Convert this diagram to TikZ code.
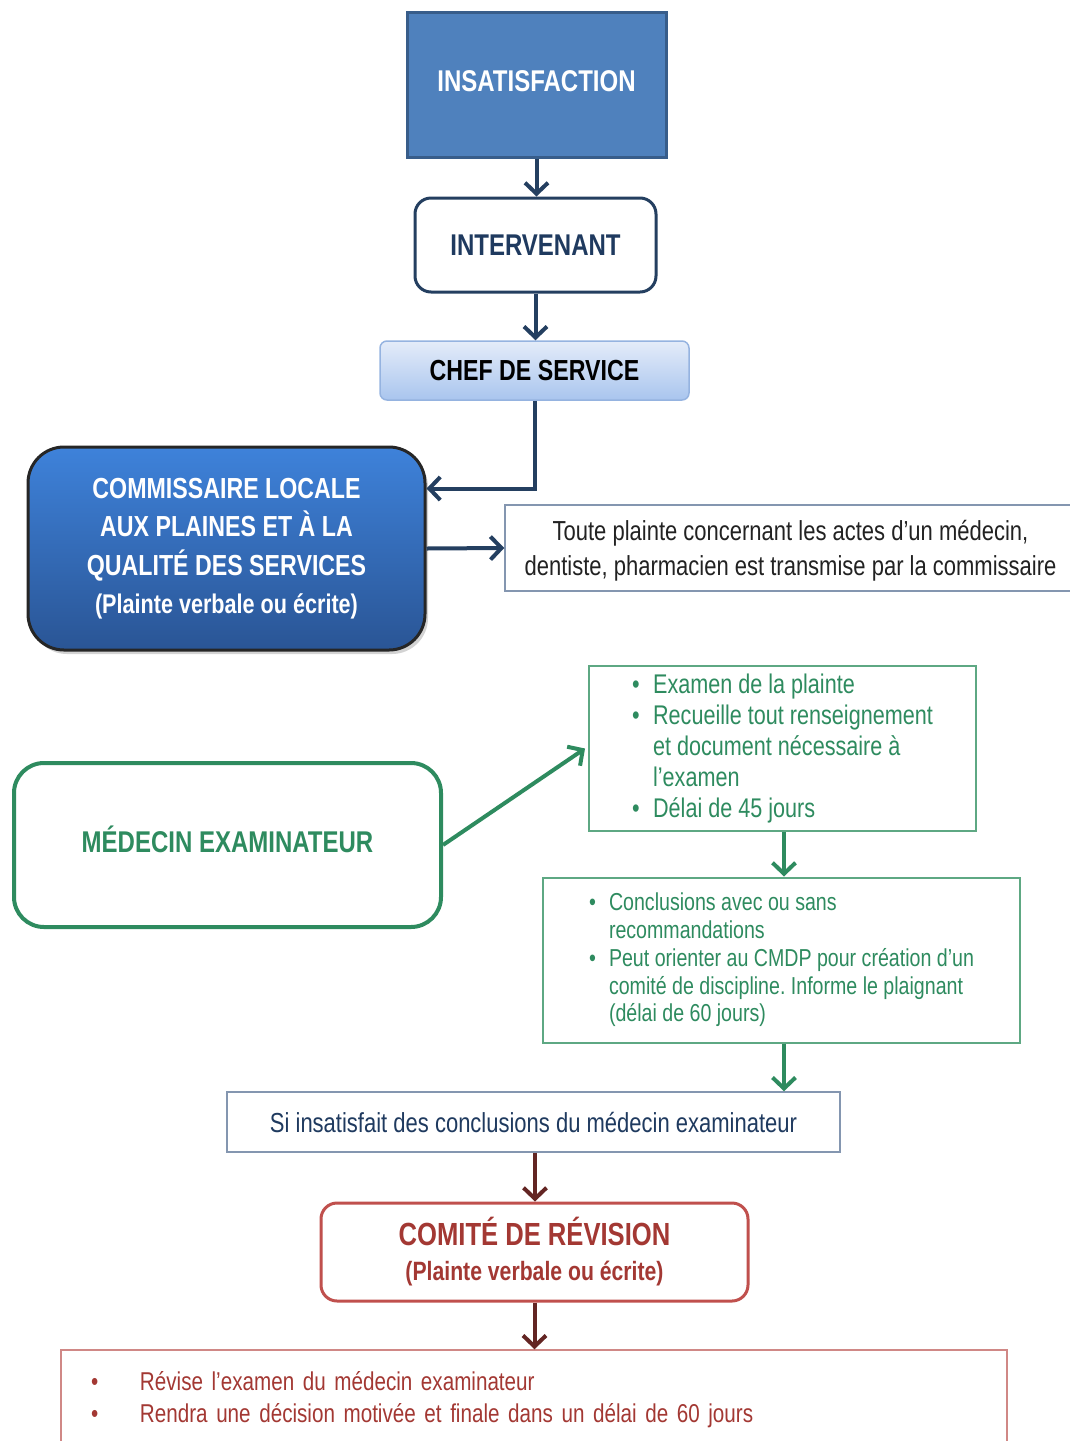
\documentclass[tikz,border=0pt]{standalone}
\usepackage{fontspec}
\setmainfont{Liberation Sans}[FakeStretch=0.8]
\usetikzlibrary{arrows.meta,shadows}
\definecolor{insfill}{HTML}{4F81BD}
\definecolor{insdraw}{HTML}{385D8A}
\definecolor{navy}{HTML}{243F60}
\definecolor{navytext}{HTML}{1F3A5F}
\definecolor{cheftop}{HTML}{E4ECF9}
\definecolor{chefbot}{HTML}{A9C5EE}
\definecolor{chefdraw}{HTML}{95B3E0}
\definecolor{commtop}{HTML}{3E82DA}
\definecolor{commbot}{HTML}{2A5595}
\definecolor{notedraw}{HTML}{8496B0}
\definecolor{grn}{HTML}{2E8B5F}
\definecolor{grnlight}{HTML}{5EA883}
\definecolor{redd}{HTML}{C0504D}
\definecolor{redtext}{HTML}{A33833}
\definecolor{redarrow}{HTML}{632523}
\definecolor{redlight}{HTML}{D08886}
\definecolor{bodytext}{HTML}{222222}
\tikzset{
  box/.style={inner sep=0pt, align=center},
  arr/.style={line width=4pt, -{Straight Barb[length=11pt,width=23pt]}},
}
\newcommand{\bul}[1]{\makebox[#1][l]{•}}
\begin{document}
\begin{tikzpicture}[x=1pt,y=-1pt]
\useasboundingbox (0,0) rectangle (1070,1441);

\node[box, draw=insdraw, line width=3pt, fill=insfill, minimum width=259pt, minimum height=145pt,
  text=white, font=\bfseries\fontsize{30}{36}\selectfont, text depth=6pt] (insat) at (536.5,84.5) {INSATISFACTION};

\node[box, draw=navy, line width=3pt, fill=white, rounded corners=16pt, minimum width=241pt, minimum height=94pt,
  text=navytext, font=\bfseries\fontsize{30}{36}\selectfont] (interv) at (535.5,245) {INTERVENANT};

\node[box, draw=chefdraw, line width=1.5pt, top color=cheftop, bottom color=chefbot, rounded corners=7pt,
  minimum width=309pt, minimum height=59pt, text=black, font=\bfseries\fontsize{29}{35}\selectfont] (chef) at (534.5,370.5) {CHEF DE SERVICE};

\node[box, draw=black!85, line width=3pt, top color=commtop, bottom color=commbot, rounded corners=36pt,
  minimum width=397pt, minimum height=203pt, text=white, font=\bfseries\fontsize{29}{38.5}\selectfont,
  drop shadow={opacity=0.35, shadow xshift=3pt, shadow yshift=-4pt}] (comm) at (226.5,548.5)
  {COMMISSAIRE LOCALE\\AUX PLAINES ET À LA\\QUALITÉ DES SERVICES\\{\fontsize{27}{38.5}\selectfont (Plainte verbale ou écrite)}};

\node[box, draw=notedraw, line width=1.5pt, fill=white, minimum width=571pt, minimum height=86pt,
  text=bodytext, font=\fontsize{27.5}{35}\selectfont, text depth=0pt] (note) at (790.5,548)
  {Toute plainte concernant les actes d’un médecin,\\dentiste, pharmacien est transmise par la commissaire};

\node[box, draw=grn, line width=4pt, fill=white, rounded corners=30pt, minimum width=427pt, minimum height=164pt,
  text=grn, font=\bfseries\fontsize{30}{36}\selectfont, text depth=12pt] (med) at (227.5,845) {MÉDECIN EXAMINATEUR};

\node[box, align=left, draw=grnlight, line width=2pt, fill=white, minimum width=387pt, minimum height=165pt,
  text=grn, font=\fontsize{27}{31}\selectfont] (g1) at (782.5,748.5)
  {\bul{21pt}Examen de la plainte\\\bul{21pt}Recueille tout renseignement\\\hspace*{21pt}et document nécessaire à\\\hspace*{21pt}l’examen\\\bul{21pt}Délai de 45 jours};

\node[box, align=left, draw=grnlight, line width=2pt, fill=white, minimum width=477pt, minimum height=165pt,
  text=grn, font=\fontsize{24.5}{27.8}\selectfont] (g2) at (781.5,960)
  {\bul{20pt}Conclusions avec ou sans\\\hspace*{20pt}recommandations\\\bul{20pt}Peut orienter au CMDP pour création d’un\\\hspace*{20pt}comité de discipline.\ Informe le plaignant\\\hspace*{20pt}(délai de 60 jours)};

\node[box, draw=notedraw, line width=1.5pt, fill=white, minimum width=613pt, minimum height=60pt,
  text=navytext, font=\fontsize{27.5}{32}\selectfont] (si) at (533.5,1122) {Si insatisfait des conclusions du médecin examinateur};

\node[box, draw=redd, line width=3pt, fill=white, rounded corners=16pt, minimum width=427pt, minimum height=98pt,
  text=redtext, font=\bfseries\fontsize{32}{35}\selectfont] (comite) at (534.5,1252)
  {COMITÉ DE RÉVISION\\{\fontsize{26.5}{35}\selectfont (Plainte verbale ou écrite)}};

\node[box, align=left, draw=redlight, line width=1.5pt, fill=white, minimum width=946pt, minimum height=100pt,
  text width=886pt, inner xsep=30pt, text=redtext, font=\fontsize{25.8}{32}\selectfont] (bottom) at (534,1400)
  {\bul{49pt}Révise l’examen du médecin examinateur\\\bul{49pt}Rendra une décision motivée et finale dans un délai de 60 jours};

% connectors
\draw[arr, navy] (insat.south) -- (insat.south |- interv.north);
\draw[arr, navy] (interv.south) -- (interv.south |- chef.north);
\draw[arr, navy] (chef.south) |- ([yshift=60pt]comm.east);
\draw[arr, navy] (comm.east) -- (note.west);
\draw[arr, grn] (med.east) -- ([xshift=-3pt]g1.west);
\draw[arr, grn] ([xshift=1.5pt]g1.south) -- ([xshift=1.5pt]g1.south |- g2.north);
\draw[arr, grn] ([xshift=2.5pt]g2.south) -- ([xshift=2.5pt]g2.south |- si.north);
\draw[arr, redarrow] ([xshift=1.5pt]si.south) -- ([xshift=1.5pt]si.south |- comite.north);
\draw[arr, redarrow] (comite.south) -- (comite.south |- bottom.north);
\end{tikzpicture}
\end{document}
